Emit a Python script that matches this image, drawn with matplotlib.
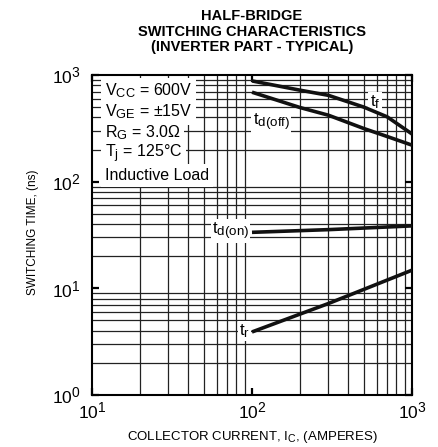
import matplotlib
matplotlib.use('Agg')
import matplotlib.pyplot as plt
import matplotlib._mathtext as mathtext_impl
import numpy as np
from matplotlib.ticker import LogLocator, NullFormatter

plt.rcParams['font.family'] = ['Liberation Sans', 'DejaVu Sans']
plt.rcParams['mathtext.fontset'] = 'custom'
plt.rcParams['mathtext.rm'] = 'Liberation Sans'
plt.rcParams['mathtext.it'] = 'Liberation Sans:italic'
# sub/superscripts in the original are only a little smaller than the base text
mathtext_impl.SHRINK_FACTOR = 0.8

# curve data (collector current in A, time in ns)
i_off = [100, 200, 300, 500, 700, 1000]
t_f = [880, 720, 645, 500, 405, 280]
t_doff = [690, 495, 420, 315, 265, 220]
i_on = [100, 300, 1000]
t_don = [33.5, 35.5, 38.5]
t_r = [3.9, 7.2, 14.8]

conditions = [r'V$_{\mathregular{CC}}$ = 600V',
              r'V$_{\mathregular{GE}}$ = ±15V',
              r'R$_{\mathregular{G}}$ = 3.0Ω',
              r'T$_{\mathregular{j}}$ = 125°C',
              'Inductive Load']

fig = plt.figure(figsize=(4.38, 4.47), dpi=100)
ax = fig.add_axes([92/438, 52/447, 320/438, 320/447])
ax.set_xscale('log')
ax.set_yscale('log')
ax.set_xlim(10, 1000)
ax.set_ylim(1, 1000)

ax.xaxis.set_minor_locator(LogLocator(base=10, subs=np.arange(2, 10)))
ax.yaxis.set_minor_locator(LogLocator(base=10, subs=np.arange(2, 10)))
ax.xaxis.set_minor_formatter(NullFormatter())
ax.yaxis.set_minor_formatter(NullFormatter())
ax.grid(True, which='minor', color='#222222', lw=0.9)
ax.tick_params(which='major', direction='in', length=5, width=1.6,
               top=True, right=True, labelsize=12.5)
ax.tick_params(axis='x', which='major', pad=4)
ax.tick_params(axis='y', which='major', pad=8)
ax.tick_params(which='minor', length=0)
for s in ax.spines.values():
    s.set_linewidth(1.5)

lw = 2.6
for xs, ys in [(i_off, t_f), (i_off, t_doff), (i_on, t_don), (i_on, t_r)]:
    ax.plot(xs, ys, color='#111111', lw=lw, zorder=4, solid_capstyle='butt')

box = dict(facecolor='white', edgecolor='none', pad=1.0)
ax.text(587, 557, r't$_{\mathregular{f}}$', fontsize=12, ha='center', va='center', bbox=box, zorder=3.5)
ax.text(101, 362, r't$_{\mathregular{d(off)}}$', fontsize=12, ha='left', va='center', bbox=box, zorder=3.5)
ax.text(96, 34.4, r't$_{\mathregular{d(on)}}$', fontsize=12, ha='right', va='center', bbox=box, zorder=3.5)
ax.text(97, 4.0, r't$_{\mathregular{r}}$', fontsize=12, ha='right', va='center', bbox=box, zorder=3.5)

ys = [90.5, 112, 133, 154, 175.5]
for txt, py in zip(conditions, ys):
    ax.text((105 - 92) / 320, (395 - py) / 320, txt, transform=ax.transAxes,
            fontsize=11.5, ha='left', va='center',
            bbox=dict(facecolor='white', edgecolor='none', pad=2.5), zorder=5)

title = ['HALF-BRIDGE', 'SWITCHING CHARACTERISTICS', '(INVERTER PART - TYPICAL)']
for k, line in enumerate(title):
    fig.text(252/438, 1 - (16.5 + 15*k)/447, line, fontsize=10.5, fontweight='bold', ha='center', va='center')

fig.text(252/438, 1 - 437/447, r'COLLECTOR CURRENT, I$_{\mathregular{C}}$, (AMPERES)', fontsize=9.5, ha='center', va='center')
fig.text(33/438, 1 - 232/447, 'SWITCHING TIME, (ns)', fontsize=8.5, ha='center', va='center', rotation=90)

fig.savefig('out.png', dpi=100)
